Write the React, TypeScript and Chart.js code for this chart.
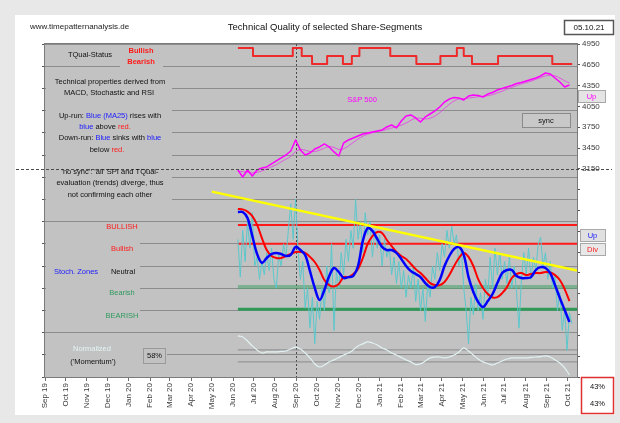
import React, { useEffect, useRef } from 'react';
import { Chart, registerables } from 'chart.js';

Chart.register(...registerables);

const FONT = '"Liberation Sans", Arial, sans-serif';

// ---------- data ----------
const monthLabels = ['Sep 19','Oct 19','Nov 19','Dec 19','Jan 20','Feb 20','Mar 20','Apr 20','May 20','Jun 20','Jul 20','Aug 20','Sep 20','Oct 20','Nov 20','Dec 20','Jan 21','Feb 21','Mar 21','Apr 21','May 21','Jun 21','Jul 21','Aug 21','Sep 21','Oct 21'];
const monthStarts = ['2019-09-01','2019-10-01','2019-11-01','2019-12-01','2020-01-01','2020-02-01','2020-03-01','2020-04-01','2020-05-01','2020-06-01','2020-07-01','2020-08-01','2020-09-01','2020-10-01','2020-11-01','2020-12-01','2021-01-01','2021-02-01','2021-03-01','2021-04-01','2021-05-01','2021-06-01','2021-07-01','2021-08-01','2021-09-01','2021-10-01'];
const axisStart = '2019-09-01';
const axisEnd = '2021-10-15';
const seriesStart = '2020-06-08';
const weekStepDays = 7;
const fastStepDays = 3.5;

// S&P 500 (weekly)
const spx = [3134,3033,3134,3048,3134,3163,3178,3221,3264,3307,
  3350,3408,3567,3423,3350,3379,3437,3466,3509,3466,
  3394,3336,3523,3567,3595,3624,3653,3667,3682,3696,
  3711,3754,3783,3740,3840,3912,3927,3884,3826,3898,
  3941,3985,4042,4114,4157,4179,4172,4143,4201,4215,
  4208,4186,4229,4251,4287,4309,4330,4352,4381,4395,
  4417,4438,4460,4489,4532,4518,4460,4402,4330,4359];
const spxAvg = [3120,3110,3100,3090,3100,3120,3150,3180,3210,3250,
  3290,3330,3400,3430,3420,3400,3400,3420,3450,3470,
  3460,3430,3440,3480,3530,3580,3620,3650,3670,3690,
  3700,3720,3740,3760,3780,3810,3850,3880,3880,3870,
  3880,3910,3960,4020,4080,4130,4160,4165,4170,4180,
  4190,4195,4205,4220,4245,4270,4300,4325,4350,4375,
  4395,4415,4440,4465,4490,4500,4490,4460,4420,4390];

// Oscillator panel (left scale 0..150)
const blueMA = [74.3,74.3,71.6,63.5,55.4,51.4,53.6,55.4,55.9,55.4,
  54.5,55.0,58.6,57.2,55.0,47.7,40.1,34.7,39.2,45.5,
  49.1,47.3,44.6,45.0,45.5,50.0,61.3,67.1,65.8,62.2,
  58.6,57.2,57.2,55.9,53.2,50.0,47.7,46.4,45.0,42.3,
  40.5,40.5,43.7,50.0,54.5,57.7,58.6,55.0,45.0,38.3,
  33.8,31.5,34.2,37.4,42.3,46.8,48.2,48.2,45.5,44.6,
  44.6,45.0,48.2,49.5,49.1,46.8,41.4,35.6,30.2,24.8];
const redMA = [75.7,75.5,74.5,72.5,68.5,62.6,57.2,54.5,53.6,53.6,
  54.5,55.4,56.3,56.3,55.9,54.1,51.8,48.2,43.7,41.4,
  40.8,41.9,45.0,45.0,46.4,48.6,53.6,59.9,63.5,65.3,
  64.9,61.7,59.0,56.3,54.5,53.2,50.9,48.6,46.8,44.6,
  42.3,41.4,41.4,42.8,45.9,50.0,53.6,55.9,54.1,50.0,
  44.1,40.1,37.4,35.8,36.0,37.8,40.5,44.6,46.4,46.8,
  45.9,46.4,46.8,46.8,47.3,47.1,45.9,43.7,39.6,34.2];
const momentum = [18.5,18.0,16.2,14.0,12.2,10.8,11.3,11.3,11.3,11.5,
  11.7,12.6,13.5,12.6,10.8,8.6,5.9,4.5,5.4,6.8,
  7.7,8.8,9.9,10.8,12.2,14.0,14.9,15.8,15.3,14.4,
  13.1,12.2,10.8,9.9,8.8,7.7,6.8,5.6,5.9,7.2,
  8.6,9.0,9.0,8.6,9.0,9.9,11.3,13.1,11.7,9.9,
  8.1,6.8,6.1,5.4,6.3,7.2,8.1,8.6,8.6,8.6,
  8.6,8.8,9.0,9.2,9.5,9.0,7.7,6.3,4.1,0.9];
const stochFast = [62,45,66,52,70,58,74,50,54,44,
  52,46,56,48,58,44,40,55,50,60,
  54,66,78,62,80,58,44,52,31,40,
  22,36,15,34,26,40,30,50,38,60,
  21,48,40,56,46,62,52,66,58,80,
  62,70,56,74,64,70,54,66,58,64,
  50,62,54,58,46,54,42,52,40,48,
  36,46,40,50,34,44,30,40,25,42,
  36,50,44,56,48,60,54,66,58,68,
  60,64,50,58,40,30,15,36,28,42,
  30,38,26,44,36,54,40,58,46,56,
  44,52,42,54,40,50,38,22,44,56,
  46,58,44,54,48,60,63,50,56,44,
  52,40,46,30,38,21,30,12,29,24];

// TQual status: 2 = high, 1 = mid, 0 = low
const statusDates = ['2020-06-08','2020-06-30','2020-08-27','2020-09-09','2020-09-24','2020-10-16','2020-11-08','2020-11-21','2020-12-02','2021-01-16','2021-02-23','2021-03-30','2021-04-23','2021-05-03','2021-05-15','2021-06-22','2021-09-09','2021-10-08'];
const statusLevels = [2,1,2,1,0,1,0,1,2,1,0,1,2,1,0,1,0,0];

const zoneLevels = [68.5, 60, 40.5, 30.5]; // BULLISH, Bullish, Bearish, BEARISH
const zoneStart = '2020-06-08';
const momentumRefLevels = [12.2, 6.8];
const trendDates = ['2020-05-01', '2021-10-15'];
const trendValues = [83.5, 48];

const rightAxisLabels = [4950, 4650, 4350, 4050, 3750, 3450, 3150];
const syncDate = '2020-09-01';
const spxRefLevel = 3150;
const dateStamp = '05.10.21';
const momentumPct = '58%';
const tqualPct = ['43%', '43%'];

// ---------- helpers ----------
const ORIGIN = Date.UTC(2019, 8, 1);
function dayOf(s: string): number {
  const [y, m, d] = s.split('-').map(Number);
  return (Date.UTC(y, m - 1, d) - ORIGIN) / 86400000;
}
function series(start: string, step: number, values: number[]) {
  const s = dayOf(start);
  return values.map((v, i) => ({ x: s + i * step, y: v }));
}
function flat(start: string, end: string, v: number) {
  return [{ x: dayOf(start), y: v }, { x: dayOf(end), y: v }];
}

const PLOT_BG = '#c2c2c2';

function rich(ctx: CanvasRenderingContext2D, parts: [string, string][], cx: number, y: number, size = 7.5, weight = '') {
  ctx.font = `${weight} ${size}px ${FONT}`;
  const total = parts.reduce((w, [t]) => w + ctx.measureText(t).width, 0);
  let x = cx - total / 2;
  ctx.textAlign = 'left';
  ctx.textBaseline = 'middle';
  for (const [t, c] of parts) {
    ctx.fillStyle = c;
    ctx.fillText(t, x, y);
    x += ctx.measureText(t).width;
  }
}

function box(ctx: CanvasRenderingContext2D, x: number, y: number, w: number, h: number, fill: string | null, stroke: string, lw = 1) {
  if (fill) { ctx.fillStyle = fill; ctx.fillRect(x, y, w, h); }
  ctx.strokeStyle = stroke; ctx.lineWidth = lw; ctx.setLineDash([]);
  ctx.strokeRect(x + 0.5, y + 0.5, w, h);
}

const BLACK = '#111111';
const BLUE = '#1a1aff';
const RED = '#ff1a1a';
const GREEN = '#2f9a5e';

const decorPlugin = {
  id: 'decor',
  beforeDraw(chart: any) {
    const { ctx, width, height, chartArea: a } = chart;
    ctx.save();
    ctx.fillStyle = '#e8e8e8';
    ctx.fillRect(0, 0, width, height);
    ctx.fillStyle = '#ffffff';
    ctx.fillRect(15, 15, 600, 400);
    ctx.fillStyle = PLOT_BG;
    ctx.fillRect(a.left, a.top, a.right - a.left, a.bottom - a.top);
    ctx.restore();
  },
  beforeDatasetsDraw(chart: any) {
    const { ctx, chartArea: a, scales } = chart;
    ctx.save();
    ctx.fillStyle = PLOT_BG;
    // text boxes hiding grid lines
    ctx.fillRect(120, 45, 43, 25);
    ctx.fillRect(46, 75, 126, 24);
    ctx.fillRect(46, 104, 126, 56);
    ctx.fillRect(46, 170, 126, 33);
    ctx.fillRect(46, 226, 94, 96);
    ctx.fillRect(46, 340, 121, 30);
    // vertical dashed line (sync)
    const sx = Math.round(scales.x.getPixelForValue(dayOf(syncDate))) + 0.5;
    ctx.strokeStyle = '#4a4a4a';
    ctx.lineWidth = 1;
    ctx.setLineDash([2, 2]);
    ctx.beginPath();
    ctx.moveTo(sx, a.top);
    ctx.lineTo(sx, a.bottom);
    ctx.stroke();
    ctx.restore();
  },
  afterDatasetsDraw(chart: any) {
    const { ctx, chartArea: a, scales } = chart;
    ctx.save();
    // plot border
    ctx.strokeStyle = '#7a7a7a';
    ctx.lineWidth = 1;
    ctx.setLineDash([]);
    ctx.strokeRect(a.left - 0.5, a.top - 0.5, a.right - a.left + 1, a.bottom - a.top + 1);

    // horizontal dashed line at S&P 3150
    const hy = Math.round(scales.y2.getPixelForValue(spxRefLevel)) + 0.5;
    ctx.strokeStyle = '#4a4a4a';
    ctx.setLineDash([3, 2]);
    ctx.beginPath();
    ctx.moveTo(16, hy);
    ctx.lineTo(612, hy);
    ctx.stroke();
    ctx.setLineDash([]);

    // header
    ctx.font = `8px ${FONT}`;
    ctx.fillStyle = '#222';
    ctx.textAlign = 'left';
    ctx.textBaseline = 'middle';
    ctx.fillText('www.timepatternanalysis.de', 30, 27);
    rich(ctx, [['Technical Quality of selected Share-Segments', BLACK]], 325, 27, 9.5);
    box(ctx, 564, 20, 49, 14, '#ffffff', '#555555', 1.5);
    rich(ctx, [[dateStamp, BLACK]], 589, 28, 8);

    // left annotations
    rich(ctx, [['TQual-Status', BLACK]], 90, 55);
    rich(ctx, [['Bullish', RED]], 141, 51, 7.5, 'bold');
    rich(ctx, [['Bearish', RED]], 141, 62, 7.5, 'bold');
    rich(ctx, [['Technical properties derived from', BLACK]], 110, 82);
    rich(ctx, [['MACD, Stochastic and RSI', BLACK]], 109, 93);
    rich(ctx, [['Up-run: ', BLACK], ['Blue (MA25)', BLUE], [' rises with', BLACK]], 110, 116);
    rich(ctx, [['blue', BLUE], [' above ', BLACK], ['red.', RED]], 105, 127);
    rich(ctx, [['Down-run: ', BLACK], ['Blue', BLUE], [' sinks with ', BLACK], ['blue', BLUE]], 110, 138);
    rich(ctx, [['below ', BLACK], ['red.', RED]], 107, 150);
    rich(ctx, [["'no sync': 'all' SPI and TQual-", BLACK]], 110, 172);
    rich(ctx, [['evaluation (trends) diverge, thus', BLACK]], 110, 183);
    rich(ctx, [['not confirming each other', BLACK]], 110, 195);

    rich(ctx, [['BULLISH', RED]], 122, 227);
    rich(ctx, [['Bullish', RED]], 122, 249);
    rich(ctx, [['Stoch. Zones', BLUE]], 76, 272);
    rich(ctx, [['Neutral', BLACK]], 123, 272);
    rich(ctx, [['Bearish', GREEN]], 122, 293);
    rich(ctx, [['BEARISH', GREEN]], 122, 316);
    rich(ctx, [['Normalized', '#e4f4f4']], 92, 349);
    rich(ctx, [["('Momentum')", BLACK]], 93, 362);
    box(ctx, 143, 348, 22, 15, null, '#9a9a9a', 1);
    rich(ctx, [[momentumPct, BLACK]], 154.5, 356);

    // S&P label and sync box
    rich(ctx, [['S&P 500', '#ff00ff']], 362, 100);
    box(ctx, 522, 113, 48, 14, '#c8c8c8', '#8a8a8a', 1);
    rich(ctx, [['sync', BLACK]], 546, 120.5);

    // right side boxes
    box(ctx, 578, 90, 27, 12, '#e4e4e4', '#a8a8a8', 1);
    rich(ctx, [['Up', '#ff00ff']], 591.5, 96.5);
    box(ctx, 580, 229, 25, 12, '#e0e0e0', '#a8a8a8', 1);
    rich(ctx, [['Up', BLUE]], 592.5, 235.5);
    box(ctx, 580, 243, 25, 12, '#e8e8e8', '#a8a8a8', 1);
    rich(ctx, [['Div', RED]], 592.5, 249.5);

    // bottom right percentage box
    box(ctx, 581, 377, 32, 36, '#ffffff', '#e03030', 1.5);
    rich(ctx, [[tqualPct[0], BLACK]], 597.5, 387);
    rich(ctx, [[tqualPct[1], BLACK]], 597.5, 404);
    ctx.restore();
  },
};

export default function App() {
  const ref = useRef<HTMLCanvasElement | null>(null);
  useEffect(() => {
    if (!ref.current) return;
    const end = axisEnd;
    const line = (data: any[], color: string, width: number, extra: any = {}) => ({
      data, borderColor: color, borderWidth: width, pointRadius: 0, fill: false,
      tension: 0, yAxisID: 'y', borderJoinStyle: 'round', ...extra,
    });
    const datasets: any[] = [
      line(statusDates.map((d, i) => ({ x: dayOf(d), y: statusLevels[i] })), '#ee2a2a', 2, { stepped: true, yAxisID: 'yS' }),
      line(series(seriesStart, weekStepDays, spx), '#ff00ff', 1.5, { yAxisID: 'y2' }),
      line(series(seriesStart, weekStepDays, spxAvg), '#e838e8', 0.8, { yAxisID: 'y2', tension: 0.3 }),
      line(trendDates.map((d, i) => ({ x: dayOf(d), y: trendValues[i] })), '#ffff00', 2.5),
      line(series(seriesStart, weekStepDays, blueMA), '#0000ff', 2.5, { tension: 0.35 }),
      line(series(seriesStart, weekStepDays, redMA), '#ff0000', 2, { tension: 0.35 }),
      line(series(seriesStart, fastStepDays, stochFast), '#5cc8cc', 1),
      line(series(seriesStart, weekStepDays, momentum), '#e2f2f2', 1.2, { tension: 0.35 }),
      line(flat(zoneStart, end, zoneLevels[0]), '#ff1a1a', 2),
      line(flat(zoneStart, end, zoneLevels[1]), '#ff1a1a', 2),
      line(flat(zoneStart, end, zoneLevels[2]), 'rgba(70,160,105,0.55)', 4),
      line(flat(zoneStart, end, zoneLevels[3]), '#2f9a58', 3),
      line(flat(zoneStart, end, momentumRefLevels[0]), '#8a8a8a', 1),
      line(flat(zoneStart, end, momentumRefLevels[1]), '#8a8a8a', 1),
    ];
    const chart = new Chart(ref.current, {
      type: 'line',
      data: { datasets },
      plugins: [decorPlugin],
      options: {
        animation: false,
        responsive: false,
        devicePixelRatio: 1,
        parsing: false as any,
        normalized: true,
        layout: { padding: { left: 40, right: 0, top: 44, bottom: 0 } },
        plugins: { legend: { display: false }, tooltip: { enabled: false }, title: { display: false } },
        scales: {
          x: {
            type: 'linear',
            min: dayOf(axisStart),
            max: dayOf(axisEnd),
            afterBuildTicks: (s: any) => { s.ticks = monthStarts.map((d) => ({ value: dayOf(d) })); },
            afterFit: (s: any) => { s.height = 46; },
            ticks: {
              autoSkip: false, minRotation: 90, maxRotation: 90, padding: 2,
              color: '#3a3a3a', font: { family: FONT, size: 8 },
              callback: (_v: any, i: number) => monthLabels[i],
            },
            grid: { drawOnChartArea: false, drawTicks: true, tickLength: 4, color: '#707070' },
            border: { display: false },
          },
          y: {
            type: 'linear', position: 'left', min: 0, max: 150,
            ticks: { stepSize: 10, display: false },
            grid: { color: '#8c8c8c', lineWidth: 1, drawTicks: true, tickLength: 3, tickColor: '#555555' },
            border: { display: false },
            afterFit: (s: any) => { s.width = 5; },
          },
          y2: {
            type: 'linear', position: 'right', min: 150, max: 4950,
            ticks: {
              stepSize: 300, padding: 2, autoSkip: false, color: '#3a3a3a',
              font: { family: FONT, size: 8 },
              callback: (v: any) => (rightAxisLabels.includes(Number(v)) ? String(v) : ''),
            },
            grid: { drawOnChartArea: false, drawTicks: true, tickLength: 3, color: '#555555' },
            border: { display: false },
            afterFit: (s: any) => { s.width = 43; },
          },
          yS: { type: 'linear', display: false, min: -39.125, max: 2.5 },
        },
      } as any,
    });
    return () => chart.destroy();
  }, []);
  return (
    <div style={{ position: 'absolute', left: 0, top: 0, width: 620, height: 423 }}>
      <canvas ref={ref} width={620} height={423} style={{ display: 'block', width: 620, height: 423 }} />
    </div>
  );
}
